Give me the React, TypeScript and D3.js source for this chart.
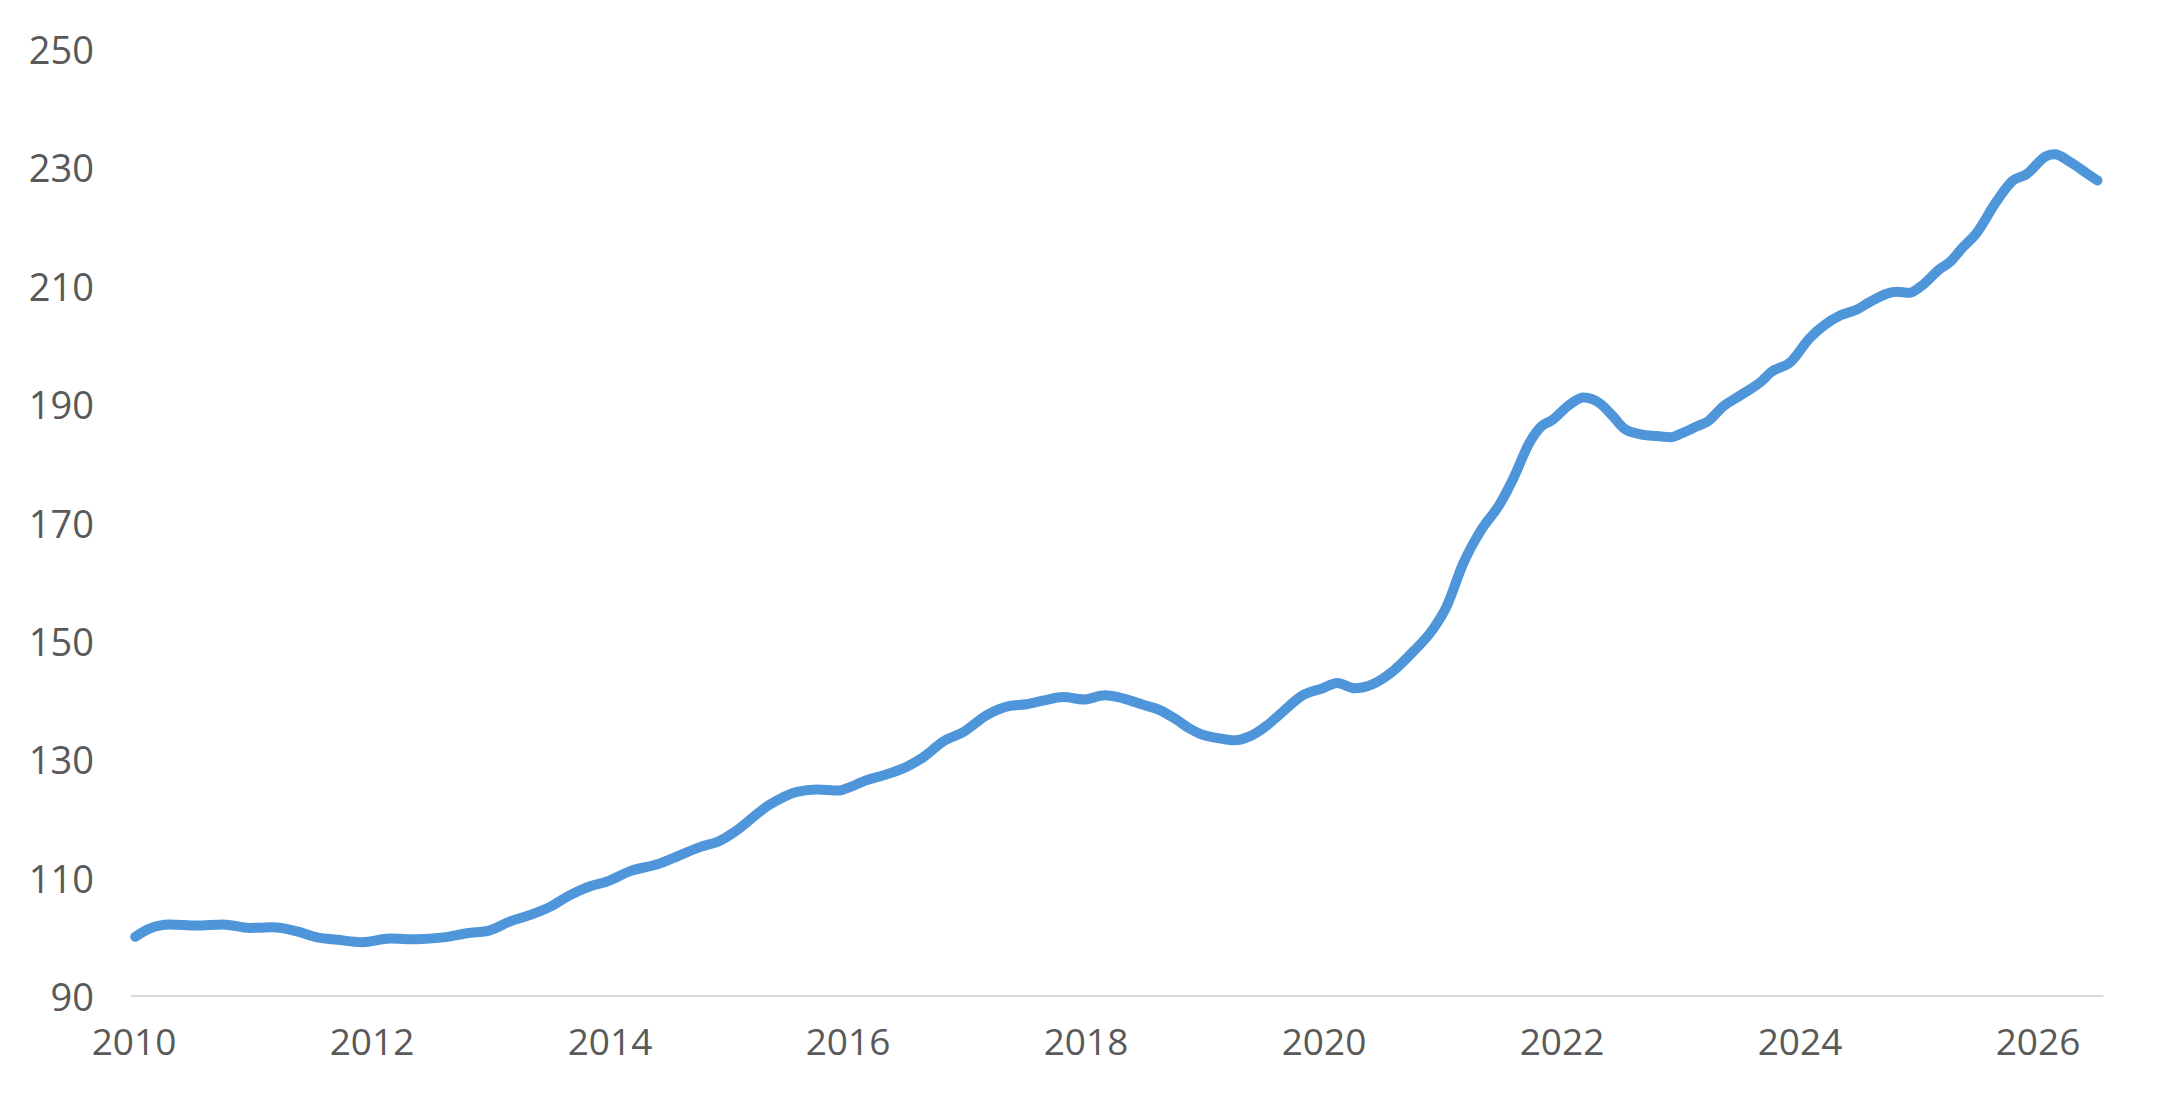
import React from "react";
import * as d3 from "d3";

// Decimal-year positions of the read points and the index values
const yearPos: number[] = [
  2010.01, 2010.13, 2010.3, 2010.53, 2010.75, 2010.97, 2011.17, 2011.37, 2011.54, 2011.71,
  2011.92, 2012.15, 2012.38, 2012.6, 2012.8, 2012.99, 2013.16, 2013.33, 2013.5, 2013.66,
  2013.84, 2013.97, 2014.17, 2014.42, 2014.53, 2014.76, 2014.92, 2015.03, 2015.34, 2015.57,
  2015.74, 2015.92, 2015.99, 2016.16, 2016.3, 2016.49, 2016.63, 2016.8, 2016.97, 2017.17,
  2017.36, 2017.5, 2017.64, 2017.81, 2017.98, 2018.16, 2018.31, 2018.48, 2018.62, 2018.76,
  2018.87, 2018.96, 2019.13, 2019.25, 2019.38, 2019.52, 2019.63, 2019.82, 2019.99, 2020.11,
  2020.26, 2020.41, 2020.58, 2020.75, 2020.92, 2021.03, 2021.17, 2021.31, 2021.48, 2021.59,
  2021.73, 2021.83, 2021.91, 2022.07, 2022.18, 2022.32, 2022.43, 2022.52, 2022.66, 2022.8,
  2022.91, 2023.02, 2023.14, 2023.22, 2023.36, 2023.5, 2023.69, 2023.75, 2023.92, 2024.08,
  2024.34, 2024.48, 2024.59, 2024.81, 2024.92, 2025.01, 2025.18, 2025.26, 2025.36, 2025.48,
  2025.65, 2025.79, 2025.9, 2026.07, 2026.14, 2026.27, 2026.41, 2026.5,
];

const indexValues: number[] = [
  100.0, 101.4, 102.1, 101.9, 102.1, 101.5, 101.6, 100.9, 99.9, 99.5,
  99.1, 99.7, 99.6, 99.9, 100.6, 101.1, 102.6, 103.7, 105.1, 107.0,
  108.6, 109.3, 111.1, 112.4, 113.3, 115.2, 116.2, 117.5, 122.3, 124.5,
  124.9, 124.7, 125.1, 126.5, 127.3, 128.7, 130.3, 133.0, 134.6, 137.5,
  139.0, 139.3, 139.9, 140.5, 140.1, 140.8, 140.3, 139.2, 138.3, 136.7,
  135.2, 134.3, 133.5, 133.2, 133.9, 135.7, 137.6, 140.8, 142.0, 142.9,
  142.0, 142.7, 144.9, 148.2, 152.1, 155.8, 163.1, 168.4, 173.2, 177.4,
  183.6, 186.3, 187.2, 190.0, 191.1, 190.1, 187.9, 185.9, 184.9, 184.6,
  184.4, 185.2, 186.3, 187.0, 189.7, 191.5, 194.1, 195.3, 197.1, 201.1,
  205.0, 206.0, 207.3, 209.0, 208.8, 209.8, 212.9, 214.0, 216.3, 218.8,
  224.2, 227.8, 228.8, 231.9, 232.2, 230.9, 229.0, 227.8,
];

const xTickYears: number[] = [2010, 2012, 2014, 2016, 2018, 2020, 2022, 2024, 2026];
const yTickValues: number[] = [90, 110, 130, 150, 170, 190, 210, 230, 250];

const W = 2158;
const H = 1100;
const FONT = "'Open Sans', 'Noto Sans', sans-serif";
const TEXT_COLOR = "#595959";

export default function App() {
  const x = d3.scaleLinear().domain([2010, 2026]).range([134, 2038]);
  const y = d3.scaleLinear().domain([90, 250]).range([996, 49]);

  const data = yearPos.map((t, i) => ({ t, v: indexValues[i] }));
  const line = d3
    .line<{ t: number; v: number }>()
    .x((d) => x(d.t))
    .y((d) => y(d.v))
    .curve(d3.curveMonotoneX);

  const axisX1 = x(yearPos[0]) - 4;
  const axisX2 = x(yearPos[yearPos.length - 1]) + 6;

  return (
    <svg
      width={W}
      height={H}
      viewBox={`0 0 ${W} ${H}`}
      style={{ position: "absolute", left: 0, top: 0, display: "block", background: "#fff" }}
    >
      <rect x={0} y={0} width={W} height={H} fill="#fff" />
      {yTickValues.map((v) => (
        <text
          key={v}
          x={94}
          y={y(v)}
          textAnchor="end"
          dominantBaseline="central"
          fontFamily={FONT}
          fontSize={38}
          fill={TEXT_COLOR}
        >
          {v}
        </text>
      ))}
      <line x1={axisX1} x2={axisX2} y1={y(90)} y2={y(90)} stroke="#d9d9d9" strokeWidth={2} />
      {xTickYears.map((yr) => (
        <text
          key={yr}
          x={x(yr)}
          y={1055}
          textAnchor="middle"
          fontFamily={FONT}
          fontSize={37}
          fill={TEXT_COLOR}
        >
          {yr}
        </text>
      ))}
      <path
        d={line(data) || ""}
        fill="none"
        stroke="#4f95d9"
        strokeWidth={10}
        strokeLinecap="round"
        strokeLinejoin="round"
      />
    </svg>
  );
}
